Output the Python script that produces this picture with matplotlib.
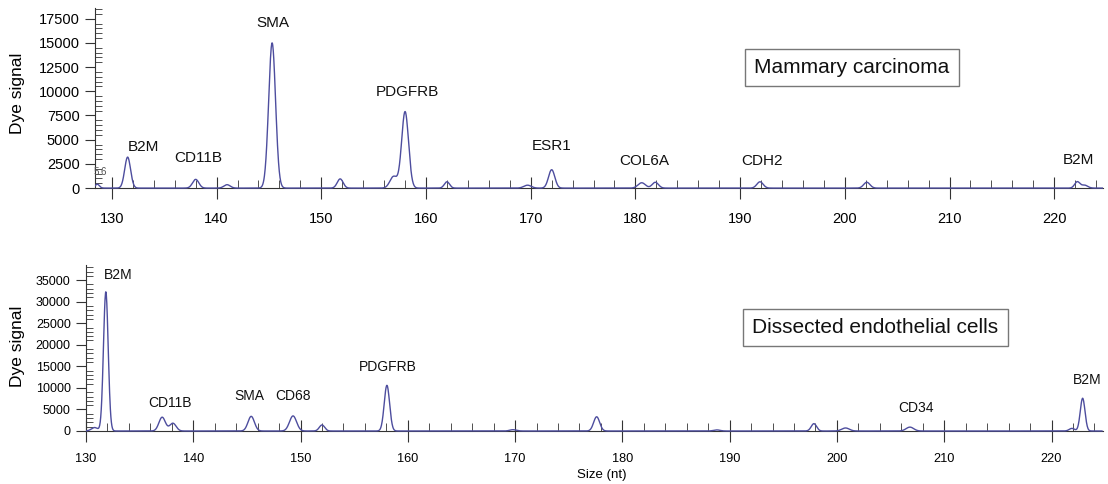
import numpy as np
import matplotlib
matplotlib.use("Agg")
import matplotlib.pyplot as plt
from matplotlib.ticker import MultipleLocator

plt.rcParams['font.family'] = ['Liberation Sans', 'DejaVu Sans']

# peak tables (size in nt, dye signal, peak width sigma)
top_sizes = [128.6, 131.5, 138.0, 141.0, 145.3, 151.8, 156.9, 158.0, 162.0, 169.7,
             172.0, 180.6, 181.9, 191.9, 202.1, 222.2, 222.9]
top_heights = [400, 3200, 900, 350, 15000, 950, 1200, 7900, 650, 300,
               1900, 550, 600, 650, 600, 650, 300]
top_widths = [0.2, 0.28, 0.3, 0.3, 0.33, 0.28, 0.35, 0.33, 0.25, 0.35,
              0.3, 0.35, 0.3, 0.3, 0.3, 0.25, 0.3]

bot_sizes = [130.8, 131.85, 137.1, 138.1, 145.4, 149.3, 152.0, 158.05, 169.8,
             177.6, 188.8, 197.85, 200.8, 206.8, 221.9, 222.9]
bot_heights = [800, 32300, 3200, 1800, 3400, 3500, 1400, 10600, 300,
               3300, 250, 1700, 700, 900, 600, 7600]
bot_widths = [0.3, 0.22, 0.3, 0.3, 0.3, 0.33, 0.25, 0.25, 0.3,
              0.28, 0.3, 0.25, 0.35, 0.35, 0.25, 0.22]

top_labels = ["B2M", "CD11B", "SMA", "PDGFRB", "ESR1", "COL6A", "CDH2", "B2M"]
top_label_x = [133.0, 138.2, 145.4, 158.2, 172.0, 180.8, 192.1, 222.3]
top_label_y = [4250, 3100, 17100, 9950, 4350, 2800, 2800, 2900]

bot_labels = ["B2M", "CD11B", "SMA", "CD68", "PDGFRB", "CD34", "B2M"]
bot_label_x = [133.0, 137.8, 145.2, 149.3, 158.1, 207.4, 223.3]
bot_label_y = [36200, 6500, 8100, 8100, 14800, 5300, 11800]

trace_color = '#4d4d9e'
axis_color = '#333333'


def trace(sizes, heights, widths, x):
    y = np.zeros_like(x)
    for s, h, w in zip(sizes, heights, widths):
        y += h * np.exp(-0.5 * ((x - s) / w) ** 2)
    return y


def style_axis(ax, xlim, ylim, ymajor, yminor, yfs, xfs, xpad):
    ax.set_xlim(*xlim)
    ax.set_ylim(*ylim)
    for s in ['top', 'right']:
        ax.spines[s].set_visible(False)
    ax.spines['bottom'].set_position(('data', 0))
    ax.spines['left'].set_bounds(0, ylim[1])
    ax.spines['bottom'].set_color(axis_color)
    ax.spines['left'].set_color(axis_color)
    ax.xaxis.set_major_locator(MultipleLocator(10))
    ax.xaxis.set_minor_locator(MultipleLocator(2))
    ax.yaxis.set_major_locator(MultipleLocator(ymajor))
    ax.yaxis.set_minor_locator(MultipleLocator(yminor))
    ax.tick_params(axis='x', which='major', direction='inout', length=16,
                   color=axis_color, labelsize=xfs, pad=xpad)
    ax.tick_params(axis='x', which='minor', direction='in', length=6, color=axis_color)
    ax.tick_params(axis='y', which='major', direction='out', length=7,
                   color=axis_color, labelsize=yfs, pad=4)
    ax.tick_params(axis='y', which='minor', direction='in', length=5, color=axis_color)
    ax.set_yticks([t for t in ax.get_yticks() if 0 <= t <= ylim[1]])


fig = plt.figure(figsize=(11.08, 4.84), dpi=100)

# top panel: mammary carcinoma
ax1 = fig.add_axes([0.0857, 0.6054, 0.9097, 0.378])
x1 = np.linspace(128.4, 224.6, 4000)
ax1.plot(x1, trace(top_sizes, top_heights, top_widths, x1), color=trace_color, lw=1.0, zorder=3)
style_axis(ax1, (128.38, 224.65), (-300, 18600), 2500, 500, 10.5, 10.5, 9)
for t, xx, yy in zip(top_labels, top_label_x, top_label_y):
    ax1.text(xx, yy, t, ha='center', va='center', fontsize=11, color='#111111')
ax1.text(128.9, 1700, "5.6", ha='center', va='center', fontsize=7, color='#555555')
ax1.text(0.751, 0.675, "Mammary carcinoma", transform=ax1.transAxes, ha='center', va='center',
         fontsize=15, color='#111111',
         bbox=dict(boxstyle='square,pad=0.45', fc='white', ec='#777777', lw=1.0))

# bottom panel: dissected endothelial cells
ax2 = fig.add_axes([0.0776, 0.1033, 0.9179, 0.349])
x2 = np.linspace(130.0, 224.7, 4000)
ax2.plot(x2, trace(bot_sizes, bot_heights, bot_widths, x2), color=trace_color, lw=1.0, zorder=3)
style_axis(ax2, (130.0, 224.8), (-700, 38500), 5000, 1000, 9, 9.2, 8)
for t, xx, yy in zip(bot_labels, bot_label_x, bot_label_y):
    ax2.text(xx, yy, t, ha='center', va='center', fontsize=10, color='#111111')
ax2.text(0.776, 0.63, "Dissected endothelial cells", transform=ax2.transAxes, ha='center',
         va='center', fontsize=15, color='#111111',
         bbox=dict(boxstyle='square,pad=0.45', fc='white', ec='#777777', lw=1.0))

fig.text(18 / 1108, 1 - 93 / 484, "Dye signal", rotation=90, ha='center', va='center', fontsize=12.5)
fig.text(18 / 1108, 1 - 346 / 484, "Dye signal", rotation=90, ha='center', va='center', fontsize=12.5)
fig.text(602 / 1108, 1 - 475 / 484, "Size (nt)", ha='center', va='center', fontsize=9.5)

fig.savefig("out.png", dpi=100)
